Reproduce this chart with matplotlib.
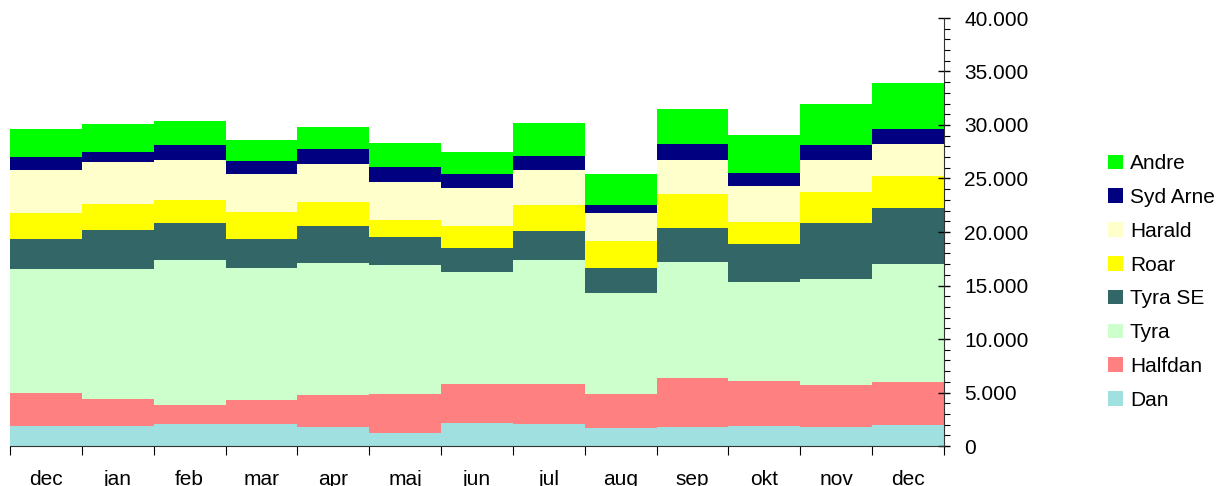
import matplotlib.pyplot as plt
import numpy as np
from matplotlib.ticker import FuncFormatter, MultipleLocator

plt.rcParams['font.family'] = ['Liberation Sans', 'DejaVu Sans']

months = ['dec', 'jan', 'feb', 'mar', 'apr', 'maj', 'jun', 'jul', 'aug', 'sep', 'okt', 'nov', 'dec']

# produktion pr. felt (stablet nedefra og op)
dan      = [1900, 1900, 2080, 2080, 1800, 1240, 2140, 2050, 1680, 1770, 1870, 1800, 1960]
halfdan  = [3050, 2500, 1770, 2210, 2960, 3600, 3640, 3730, 3170, 4570, 4190, 3890, 4010]
tyra     = [11550, 12100, 13500, 12300, 12300, 12100, 10500, 11570, 9420, 10820, 9250, 9890, 11010]
tyra_se  = [2800, 3650, 3450, 2800, 3500, 2600, 2250, 2700, 2330, 3250, 3550, 5220, 5220]
roar     = [2500, 2450, 2150, 2500, 2250, 1600, 2050, 2450, 2600, 3100, 2050, 2900, 3000]
harald   = [4000, 3900, 3750, 3500, 3550, 3500, 3550, 3300, 2600, 3200, 3350, 3000, 3000]
syd_arne = [1250, 1000, 1400, 1200, 1400, 1400, 1300, 1300, 700, 1500, 1300, 1400, 1400]
andre    = [2550, 2600, 2300, 2000, 2050, 2250, 2050, 3100, 2900, 3300, 3550, 3900, 4360]

series = [dan, halfdan, tyra, tyra_se, roar, harald, syd_arne, andre]
names = ['Dan', 'Halfdan', 'Tyra', 'Tyra SE', 'Roar', 'Harald', 'Syd Arne', 'Andre']
colors = ['#A0E0E0', '#FF8080', '#CCFFCC', '#336666', '#FFFF00', '#FFFFCC', '#000080', '#00FF00']

fig = plt.figure(figsize=(12.2, 4.86), dpi=100)
ax = fig.add_axes([10 / 1220, 1 - 446 / 486, 934 / 1220, 428 / 486])

x = np.arange(len(months))
bottom = np.zeros(len(months))
handles = []
for vals, name, c in zip(series, names, colors):
    b = ax.bar(x, vals, width=1.0, bottom=bottom, color=c, label=name, linewidth=0)
    handles.append(b)
    bottom += np.array(vals)

ax.set_xlim(-0.5, len(months) - 0.5)
ax.set_ylim(0, 40000)

for s in ['left', 'top']:
    ax.spines[s].set_visible(False)
ax.spines['bottom'].set_color('#333333')
ax.spines['right'].set_color('#333333')

ax.yaxis.tick_right()
ax.yaxis.set_major_locator(MultipleLocator(5000))
ax.yaxis.set_minor_locator(MultipleLocator(1000))
ax.yaxis.set_major_formatter(FuncFormatter(lambda v, p: f'{v:,.0f}'.replace(',', '.')))
ax.tick_params(axis='y', which='major', direction='inout', length=9, width=1, labelsize=15, pad=10)
ax.tick_params(axis='y', which='minor', direction='out', length=4.5, width=0.8)

ax.set_xticks(x)
ax.set_xticklabels(months)
ax.set_xticks(np.arange(-0.5, len(months)), minor=True)
ax.tick_params(axis='x', which='major', length=0, labelsize=15, pad=17)
ax.tick_params(axis='x', which='minor', direction='out', length=6.5, width=0.8)

fig.legend(handles[::-1], names[::-1], loc='center left',
           bbox_to_anchor=(1108 / 1220, 1 - 282 / 486), frameon=False, fontsize=15,
           handlelength=0.7, handleheight=0.7, handletextpad=0.35, labelspacing=0.71,
           borderpad=0, borderaxespad=0)

fig.savefig('out.png', dpi=100)
